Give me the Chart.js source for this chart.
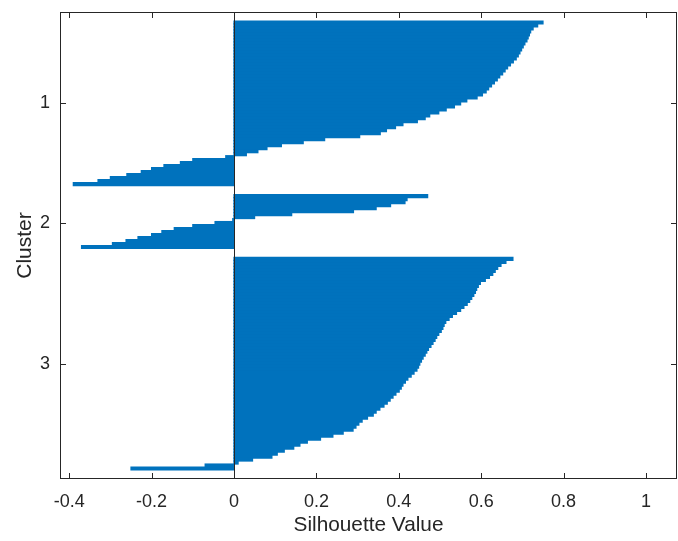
<!DOCTYPE html>
<html>
<head>
<meta charset="utf-8">
<script src="https://cdn.jsdelivr.net/npm/chart.js@4.4.0/dist/chart.umd.min.js"></script>
<style>
  html, body { margin: 0; padding: 0; background: #fff; }
  #wrap { width: 678px; height: 541px; }
</style>
</head>
<body>
<div id="wrap"><canvas id="chart"></canvas></div>
<script>
// silhouette values per cluster, sorted, one value per ~3px row of the plot
const cluster1 = [
  0.750, 0.737, 0.726, 0.720, 0.717, 0.714, 0.711, 0.706, 0.702, 0.698,
  0.694, 0.690, 0.685, 0.678, 0.671, 0.664, 0.658, 0.652, 0.645, 0.639,
  0.632, 0.625, 0.618, 0.612, 0.603, 0.590, 0.565, 0.550, 0.535, 0.515,
  0.497, 0.475, 0.464, 0.445, 0.410, 0.392, 0.370, 0.355, 0.305, 0.220,
  0.168, 0.115, 0.080, 0.058, 0.030, -0.020, -0.100, -0.130, -0.170, -0.200,
  -0.225, -0.260, -0.300, -0.330, -0.390
];
const cluster2 = [
  0.470, 0.420, 0.415, 0.380, 0.345, 0.290, 0.140, 0.050, -0.003, -0.046,
  -0.100, -0.145, -0.175, -0.200, -0.233, -0.262, -0.295, -0.370
];
const cluster3 = [
  0.677, 0.660, 0.648, 0.640, 0.634, 0.628, 0.620, 0.610, 0.598, 0.593,
  0.589, 0.586, 0.582, 0.577, 0.572, 0.566, 0.558, 0.550, 0.540, 0.530,
  0.522, 0.514, 0.510, 0.507, 0.503, 0.497, 0.492, 0.488, 0.483, 0.478,
  0.472, 0.468, 0.464, 0.459, 0.455, 0.451, 0.448, 0.444, 0.437, 0.430,
  0.422, 0.416, 0.410, 0.406, 0.401, 0.393, 0.386, 0.379, 0.372, 0.364,
  0.354, 0.345, 0.338, 0.324, 0.311, 0.303, 0.296, 0.289, 0.265, 0.240,
  0.210, 0.178, 0.160, 0.145, 0.122, 0.105, 0.092, 0.045, 0.010, -0.070,
  -0.250
];
const clusterNames = ["1", "2", "3"];
const xTicks = [-0.4, -0.2, 0, 0.2, 0.4, 0.6, 0.8, 1];
const gapRows = 3;

const textColor = "#262626";
const fontFamily = "'Liberation Sans', Arial, Helvetica, sans-serif";

// build the row list: empty rows between clusters, label only on the middle row
const labels = [];
const values = [];
function pushGap() {
  for (let i = 0; i < gapRows; i++) { labels.push(""); values.push(null); }
}
pushGap();
[cluster1, cluster2, cluster3].forEach((c, k) => {
  const start = labels.length;
  const mid = start + Math.round((c.length - 1) / 2);
  c.forEach((v, i) => {
    labels.push(start + i === mid ? clusterNames[k] : "");
    values.push(v);
  });
  pushGap();
});

// matlab style box, inward ticks and the zero baseline
const matlabAxes = {
  id: "matlabAxes",
  afterDatasetsDraw(chart) {
    const { ctx, chartArea: a, scales: { x, y } } = chart;
    const len = 6;
    ctx.save();
    ctx.strokeStyle = textColor;
    ctx.lineWidth = 1;
    const line = (x1, y1, x2, y2) => {
      ctx.beginPath(); ctx.moveTo(x1, y1); ctx.lineTo(x2, y2); ctx.stroke();
    };
    const x0 = Math.round(x.getPixelForValue(0)) + 0.5;
    line(x0, a.top, x0, a.bottom);
    ctx.strokeRect(a.left + 0.5, a.top + 0.5, a.right - a.left - 1, a.bottom - a.top - 1);
    x.ticks.forEach(t => {
      const px = Math.round(x.getPixelForValue(t.value)) + 0.5;
      line(px, a.bottom, px, a.bottom - len);
      line(px, a.top, px, a.top + len);
    });
    y.ticks.forEach(t => {
      const py = Math.round(y.getPixelForValue(t.value)) + 0.5;
      line(a.left, py, a.left + len, py);
      line(a.right, py, a.right - len, py);
    });
    ctx.restore();
  }
};

const ctx = document.getElementById("chart").getContext("2d");
new Chart(ctx, {
  type: "bar",
  data: {
    labels: labels,
    datasets: [{
      data: values,
      backgroundColor: "#0072BD",
      borderWidth: 0,
      inflateAmount: 0.6,
      barPercentage: 1,
      categoryPercentage: 1,
    }],
  },
  options: {
    indexAxis: "y",
    responsive: true,
    maintainAspectRatio: false,
    animation: false,
    layout: { padding: { top: 12, right: 1, left: 0, bottom: 0 } },
    plugins: { legend: { display: false }, tooltip: { enabled: false } },
    scales: {
      x: {
        type: "linear",
        min: -0.4223,
        max: 1.0752,
        grid: { display: false, drawTicks: false },
        border: { display: false },
        afterBuildTicks: s => { s.ticks = xTicks.map(v => ({ value: v })); },
        ticks: {
          padding: 12,
          color: textColor,
          font: { family: fontFamily, size: 18 },
          callback: v => String(v),
        },
        title: {
          display: true,
          text: "Silhouette Value",
          color: textColor,
          font: { family: fontFamily, size: 20.8 },
          padding: { top: 0, bottom: 3 },
        },
        afterFit: s => {
          s.height = 62;
          s.paddingLeft = 0;
          s.paddingRight = 0;
        },
      },
      y: {
        grid: { display: false, drawTicks: false },
        border: { display: false },
        afterBuildTicks: s => { s.ticks = s.ticks.filter(t => labels[t.value] !== ""); },
        ticks: {
          autoSkip: false,
          padding: 10,
          color: textColor,
          font: { family: fontFamily, size: 18 },
        },
        title: {
          display: true,
          text: "Cluster",
          color: textColor,
          font: { family: fontFamily, size: 21 },
          padding: { top: 13, bottom: 0 },
        },
        afterFit: s => {
          s.width = 60;
          s.paddingTop = 0;
          s.paddingBottom = 0;
        },
      },
    },
  },
  plugins: [matlabAxes],
});
</script>
</body>
</html>
